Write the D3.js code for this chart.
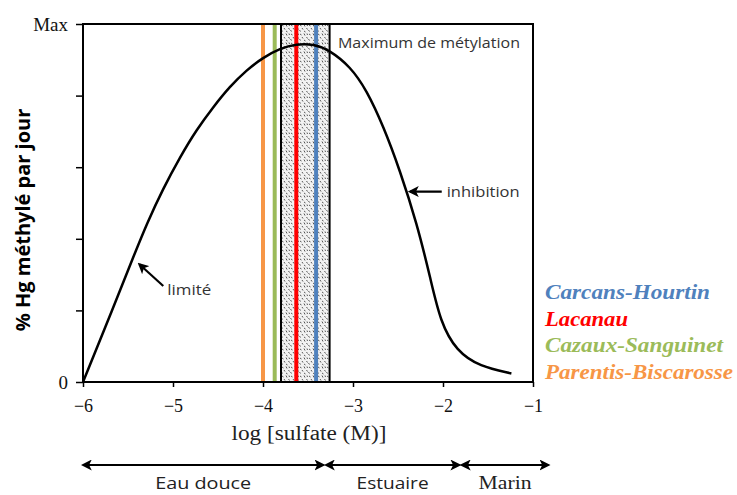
<!DOCTYPE html>
<html lang="fr">
<head>
  <meta charset="UTF-8">
  <title>Méthylation du mercure</title>
  <script src="https://cdn.jsdelivr.net/npm/d3@7/dist/d3.min.js"></script>
  <style>
    body { margin: 0; background: #fff; }
  </style>
</head>
<body>
  <div id="wrapper"></div>
  <script>
    // courbe de méthylation (log sulfate, % du max)
    const curveX = [-6, -5.66, -5.44, -5.29, -5.11, -4.92, -4.74, -4.55, -4.37, -4.18, -4.0, -3.81, -3.63,
      -3.44, -3.26, -3.03, -2.85, -2.66, -2.48, -2.29, -2.14, -2.03, -1.85, -1.59, -1.24]
    const curveY = [0, 21, 35, 44.3, 54, 62.9, 70.4, 76.9, 82.5, 87.2, 90.6, 93.2, 94.4,
      94.4, 92.7, 88.1, 81.6, 71.3, 59.2, 44.3, 29, 16.8, 8.6, 4.3, 2.4]

    const siteNames = ["Carcans-Hourtin", "Lacanau", "Cazaux-Sanguinet", "Parentis-Biscarosse"]
    const siteSulfate = [-3.41, -3.63, -3.87, -4.0]
    const siteColors = ["#4f81bd", "#ff0000", "#9bbb59", "#f79646"]
    const legendWidths = [165, 83, 178, 188]

    const bandRange = [-3.80, -3.26]

    const xTicks = [-6, -5, -4, -3, -2, -1]
    const yTicks = [0, 20, 40, 60, 80, 100]
    const yTickLabels = { 0: "0", 100: "Max" }

    const zoneNames = ["Eau douce", "Estuaire", "Marin"]
    const zoneFrom = [-6, -3.30, -1.79]
    const zoneTo = [-3.33, -1.82, -0.83]
    const zoneTextWidths = [96, 72, 53]

    let dimensions = {
      width: 737,
      height: 495,
      margin: { top: 24, right: 204, bottom: 113, left: 83 }
    }
    dimensions.boundedWidth = dimensions.width - dimensions.margin.left - dimensions.margin.right
    dimensions.boundedHeight = dimensions.height - dimensions.margin.top - dimensions.margin.bottom

    const svg = d3.select("#wrapper").append("svg")
      .attr("width", dimensions.width)
      .attr("height", dimensions.height)

    // texture pointillée de la bande
    const defs = svg.append("defs")
    const pat = defs.append("pattern")
      .attr("id", "stipple")
      .attr("patternUnits", "userSpaceOnUse")
      .attr("width", 9).attr("height", 9)
    pat.append("rect").attr("width", 9).attr("height", 9).attr("fill", "#f2f2f2")
    const dashes = [[1, 1, 2.5, 2], [5, 0.5, 6, 2.5], [7.5, 4, 8.5, 5.5], [3, 4, 4, 5.5],
      [0.5, 6, 1.5, 7.5], [5, 7, 6.5, 8], [8, 0.5, 8.5, 2]]
    dashes.forEach(d => pat.append("line")
      .attr("x1", d[0]).attr("y1", d[1]).attr("x2", d[2]).attr("y2", d[3])
      .attr("stroke", "#444").attr("stroke-width", 0.9))

    const bounds = svg.append("g")
      .attr("transform", `translate(${dimensions.margin.left},${dimensions.margin.top})`)

    const xScale = d3.scaleLinear().domain([-6, -1]).range([0, dimensions.boundedWidth])
    const yScale = d3.scaleLinear().domain([0, 100]).range([dimensions.boundedHeight, 0])

    // bande "maximum de méthylation"
    bounds.append("rect")
      .attr("x", xScale(bandRange[0]))
      .attr("y", 0)
      .attr("width", xScale(bandRange[1]) - xScale(bandRange[0]))
      .attr("height", dimensions.boundedHeight)
      .attr("fill", "url(#stipple)")
      .attr("stroke", "#000")
      .attr("stroke-width", 2)

    // lignes des lacs
    bounds.selectAll(".site").data(siteSulfate).join("line")
      .attr("class", "site")
      .attr("x1", d => xScale(d)).attr("x2", d => xScale(d))
      .attr("y1", 0).attr("y2", dimensions.boundedHeight)
      .attr("stroke", (d, i) => siteColors[i])
      .attr("stroke-width", 4)

    // courbe
    const line = d3.line()
      .x((d, i) => xScale(curveX[i]))
      .y(d => yScale(d))
      .curve(d3.curveBasis)
    bounds.append("path")
      .attr("d", line(curveY))
      .attr("fill", "none")
      .attr("stroke", "#000")
      .attr("stroke-width", 2.5)

    // cadre
    bounds.append("rect")
      .attr("width", dimensions.boundedWidth)
      .attr("height", dimensions.boundedHeight)
      .attr("fill", "none")
      .attr("stroke", "#000")
      .attr("stroke-width", 2)

    // axes
    const xAxis = bounds.append("g")
      .attr("transform", `translate(0,${dimensions.boundedHeight})`)
      .call(d3.axisBottom(xScale).tickValues(xTicks).tickSize(5).tickPadding(12)
        .tickFormat(d => "\u2212" + Math.abs(d)))
    const yAxis = bounds.append("g")
      .call(d3.axisLeft(yScale).tickValues(yTicks).tickSize(7).tickPadding(8)
        .tickFormat(d => yTickLabels[d] || ""))
    ;[xAxis, yAxis].forEach(ax => {
      ax.select(".domain").remove()
      ax.selectAll(".tick line").attr("stroke", "#000").attr("stroke-width", 1.5)
      ax.selectAll("text")
        .attr("fill", "#111")
        .style("font-family", "'Liberation Serif', 'Times New Roman', serif")
        .style("font-size", "18px")
    })
    yAxis.selectAll("text").style("font-size", "19px")

    svg.append("text")
      .attr("x", 309).attr("y", 440)
      .attr("text-anchor", "middle")
      .attr("textLength", 155)
      .attr("lengthAdjust", "spacingAndGlyphs")
      .style("font-family", "'Liberation Serif', 'Times New Roman', serif")
      .style("font-size", "20px")
      .attr("fill", "#222")
      .text("log [sulfate (M)]")

    svg.append("text")
      .attr("transform", "translate(30,220) rotate(-90)")
      .attr("text-anchor", "middle")
      .style("font-family", "'Open Sans', sans-serif")
      .style("font-weight", "bold")
      .style("font-size", "20px")
      .text("% Hg méthylé par jour")

    // annotations
    const annot = bounds.append("g")
      .style("font-family", "'Open Sans', sans-serif")
      .style("font-size", "14px")
      .attr("fill", "#333")
    annot.append("text")
      .attr("x", xScale(-3.167)).attr("y", yScale(93.3))
      .attr("textLength", 182)
      .attr("lengthAdjust", "spacingAndGlyphs")
      .text("Maximum de métylation")
    annot.append("text")
      .attr("x", xScale(-1.959)).attr("y", yScale(51.8))
      .attr("textLength", 73)
      .attr("lengthAdjust", "spacingAndGlyphs")
      .text("inhibition")
    annot.append("text")
      .attr("x", xScale(-5.063)).attr("y", yScale(24.3))
      .attr("textLength", 44)
      .attr("lengthAdjust", "spacingAndGlyphs")
      .text("limité")

    defs.append("marker")
      .attr("id", "head")
      .attr("viewBox", "0 0 10 10")
      .attr("refX", 8).attr("refY", 5)
      .attr("markerWidth", 5).attr("markerHeight", 5)
      .attr("orient", "auto-start-reverse")
      .append("path").attr("d", "M0,0 L10,5 L0,10 L2.5,5 Z").attr("fill", "#000")

    const arrows = [
      [[-5.108, 26.8], [-5.374, 32.9]],
      [[-2.014, 53.2], [-2.367, 53.2]]
    ]
    bounds.selectAll(".annot-arrow").data(arrows).join("line")
      .attr("class", "annot-arrow")
      .attr("x1", d => xScale(d[0][0])).attr("y1", d => yScale(d[0][1]))
      .attr("x2", d => xScale(d[1][0])).attr("y2", d => yScale(d[1][1]))
      .attr("stroke", "#000").attr("stroke-width", 2.2)
      .attr("marker-end", "url(#head)")

    // légende
    svg.append("g").selectAll("text").data(siteNames).join("text")
      .attr("x", 545)
      .attr("y", (d, i) => 299 + i * 26.5)
      .attr("fill", (d, i) => siteColors[i])
      .attr("textLength", (d, i) => legendWidths[i])
      .attr("lengthAdjust", "spacingAndGlyphs")
      .style("font-family", "'Liberation Serif', 'Times New Roman', serif")
      .style("font-weight", "bold")
      .style("font-style", "italic")
      .style("font-size", "20px")
      .text(d => d)

    // zones
    const zoneY = 465
    const zones = svg.append("g")
    zones.selectAll("line").data(zoneNames).join("line")
      .attr("x1", (d, i) => dimensions.margin.left + xScale(zoneFrom[i]))
      .attr("x2", (d, i) => dimensions.margin.left + xScale(zoneTo[i]))
      .attr("y1", zoneY).attr("y2", zoneY)
      .attr("stroke", "#000").attr("stroke-width", 2.2)
      .attr("marker-start", "url(#head)")
      .attr("marker-end", "url(#head)")
    zones.selectAll("text").data(zoneNames).join("text")
      .attr("x", (d, i) => dimensions.margin.left + xScale((zoneFrom[i] + zoneTo[i]) / 2))
      .attr("y", 489)
      .attr("text-anchor", "middle")
      .attr("textLength", (d, i) => zoneTextWidths[i])
      .attr("lengthAdjust", "spacingAndGlyphs")
      .attr("fill", "#222")
      .style("font-family", (d, i) => i === 2 ? "'Liberation Serif', serif" : "'Open Sans', sans-serif")
      .style("font-size", (d, i) => i === 2 ? "19px" : "16px")
      .text(d => d)
  </script>
</body>
</html>
